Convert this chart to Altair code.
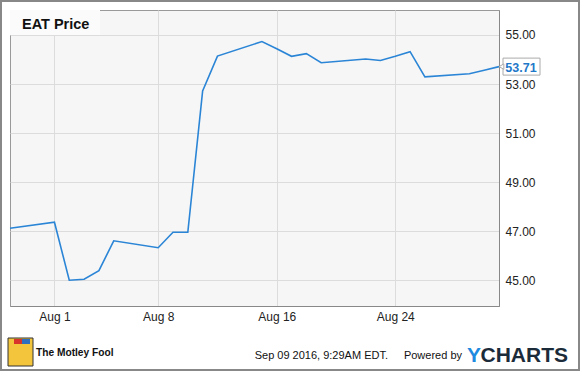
import altair as alt
import pandas as pd

# ---- data ----
dates = ["2016-07-29", "2016-08-01", "2016-08-02", "2016-08-03", "2016-08-04",
         "2016-08-05", "2016-08-08", "2016-08-09", "2016-08-10", "2016-08-11",
         "2016-08-12", "2016-08-15", "2016-08-16", "2016-08-17", "2016-08-18",
         "2016-08-19", "2016-08-22", "2016-08-23", "2016-08-24", "2016-08-25",
         "2016-08-26", "2016-08-29", "2016-08-30", "2016-08-31"]
prices = [47.11, 47.36, 44.99, 45.03, 45.38,
          46.60, 46.32, 46.95, 46.95, 52.72,
          54.14, 54.73, 54.44, 54.13, 54.24,
          53.87, 54.02, 53.96, 54.13, 54.32,
          53.29, 53.42, 53.56, 53.71]
x_tick_days = [1, 8, 16, 24]          # August tick dates
y_ticks = [45, 47, 49, 51, 53, 55]
title_text = "EAT Price"
last_label = "53.71"
footer_date = "Sep 09 2016, 9:29AM EDT."
footer_powered = "Powered by"
brand_left = "The Motley Fool"

df = pd.DataFrame({"date": dates, "price": prices})
last = df.tail(1)
one = alt.Data(values=[{"k": 1}])

FONT = "Liberation Sans, Arial, sans-serif"
LINE = "#2b85d6"

x_enc = alt.X(
    "date:T",
    scale=alt.Scale(type="utc", nice=False,
                    domain=[alt.DateTime(year=2016, month=7, date=29, utc=True),
                            alt.DateTime(year=2016, month=8, date=31, utc=True)]),
    axis=alt.Axis(values=[alt.DateTime(year=2016, month=8, date=d, utc=True) for d in x_tick_days],
                  format="%b %-d", title=None, ticks=False, labelPadding=5,
                  labelFontSize=12, labelFont=FONT, labelColor="#222",
                  domainColor="#888", gridColor="#dcdcdc"),
)
y_enc = alt.Y(
    "price:Q",
    scale=alt.Scale(domain=[43.94, 56.02], nice=False, zero=False),
    axis=alt.Axis(orient="right", values=y_ticks, format=".2f", title=None,
                  ticks=False, labelPadding=6, labelFontSize=12, labelFont=FONT,
                  labelColor="#222", domainColor="#888", gridColor="#dcdcdc"),
)

title_box = alt.Chart(one).mark_rect(fill="#fbfbfb").encode(
    x=alt.value(0), x2=alt.value(90), y=alt.value(0), y2=alt.value(25))

line = alt.Chart(df).mark_line(color=LINE, strokeWidth=1.6).encode(x=x_enc, y=y_enc)

end_box = alt.Chart(last).mark_rect(width=37, height=17, xOffset=22.5, fill="white",
                                    stroke="#aaa", strokeWidth=1).encode(x=x_enc, y=y_enc)
end_ptr = alt.Chart(last).mark_point(shape="triangle-left", size=30, xOffset=2.5, filled=True,
                                     fill="white", stroke="#aaa", strokeWidth=1,
                                     opacity=1).encode(x=x_enc, y=y_enc)
end_txt = alt.Chart(last).mark_text(text=last_label, align="center", baseline="middle",
                                    xOffset=22, yOffset=1, fontSize=12.5, fontWeight="bold",
                                    font=FONT, color="#1f78c8").encode(x=x_enc, y=y_enc)

title = alt.Chart(one).mark_text(text=title_text, align="left", baseline="alphabetic",
                                 fontSize=14.5, fontWeight="bold", font=FONT,
                                 color="#111").encode(x=alt.value(12), y=alt.value(19))

logo = alt.Chart(one).mark_rect(fill="#f2c53d", stroke="#333", strokeWidth=1).encode(
    x=alt.value(-2), x2=alt.value(23), y=alt.value(328), y2=alt.value(356))
logo_hat_r = alt.Chart(one).mark_rect(fill="#d9342b").encode(
    x=alt.value(4), x2=alt.value(12), y=alt.value(329), y2=alt.value(334))
logo_hat_b = alt.Chart(one).mark_rect(fill="#2f6fc0").encode(
    x=alt.value(12), x2=alt.value(20), y=alt.value(329), y2=alt.value(334))
fool = alt.Chart(one).mark_text(text=brand_left, align="left", baseline="alphabetic",
                                fontSize=10.2, fontWeight="bold", font=FONT,
                                color="#111").encode(x=alt.value(26), y=alt.value(346))
stamp = alt.Chart(one).mark_text(text=footer_date, align="right", baseline="alphabetic",
                                 fontSize=11, font=FONT, color="#111").encode(
    x=alt.value(378), y=alt.value(349))
powered = alt.Chart(one).mark_text(text=footer_powered, align="right", baseline="alphabetic",
                                   fontSize=11, font=FONT, color="#111").encode(
    x=alt.value(452), y=alt.value(349))
ych_y = alt.Chart(one).mark_text(text="Y", align="left", baseline="alphabetic",
                                 fontSize=21, fontWeight="bold", font=FONT,
                                 color="#1e8ae0").encode(x=alt.value(457), y=alt.value(352))
ych_rest = alt.Chart(one).mark_text(text="CHARTS", align="right", baseline="alphabetic",
                                    fontSize=21, fontWeight="bold", font=FONT,
                                    color="#1c2b39").encode(x=alt.value(558), y=alt.value(352))
frame = alt.Chart(one).mark_rect(fill=None, stroke="#888", strokeWidth=2).encode(
    x=alt.value(-9), x2=alt.value(569), y=alt.value(-9), y2=alt.value(360))

chart = alt.layer(
    title_box, line, end_box, end_ptr, end_txt, title,
    logo, logo_hat_r, logo_hat_b, fool, stamp, powered, ych_y, ych_rest, frame
).properties(
    width=489, height=296,
    autosize=alt.AutoSizeParams(type="none"),
    padding={"left": 10, "top": 10, "right": 81, "bottom": 65},
    background="white",
).configure_view(
    fill="#f6f6f6", stroke="#999", strokeWidth=1
)

chart.save("out.html", embed_options={"renderer": "svg", "actions": False})
